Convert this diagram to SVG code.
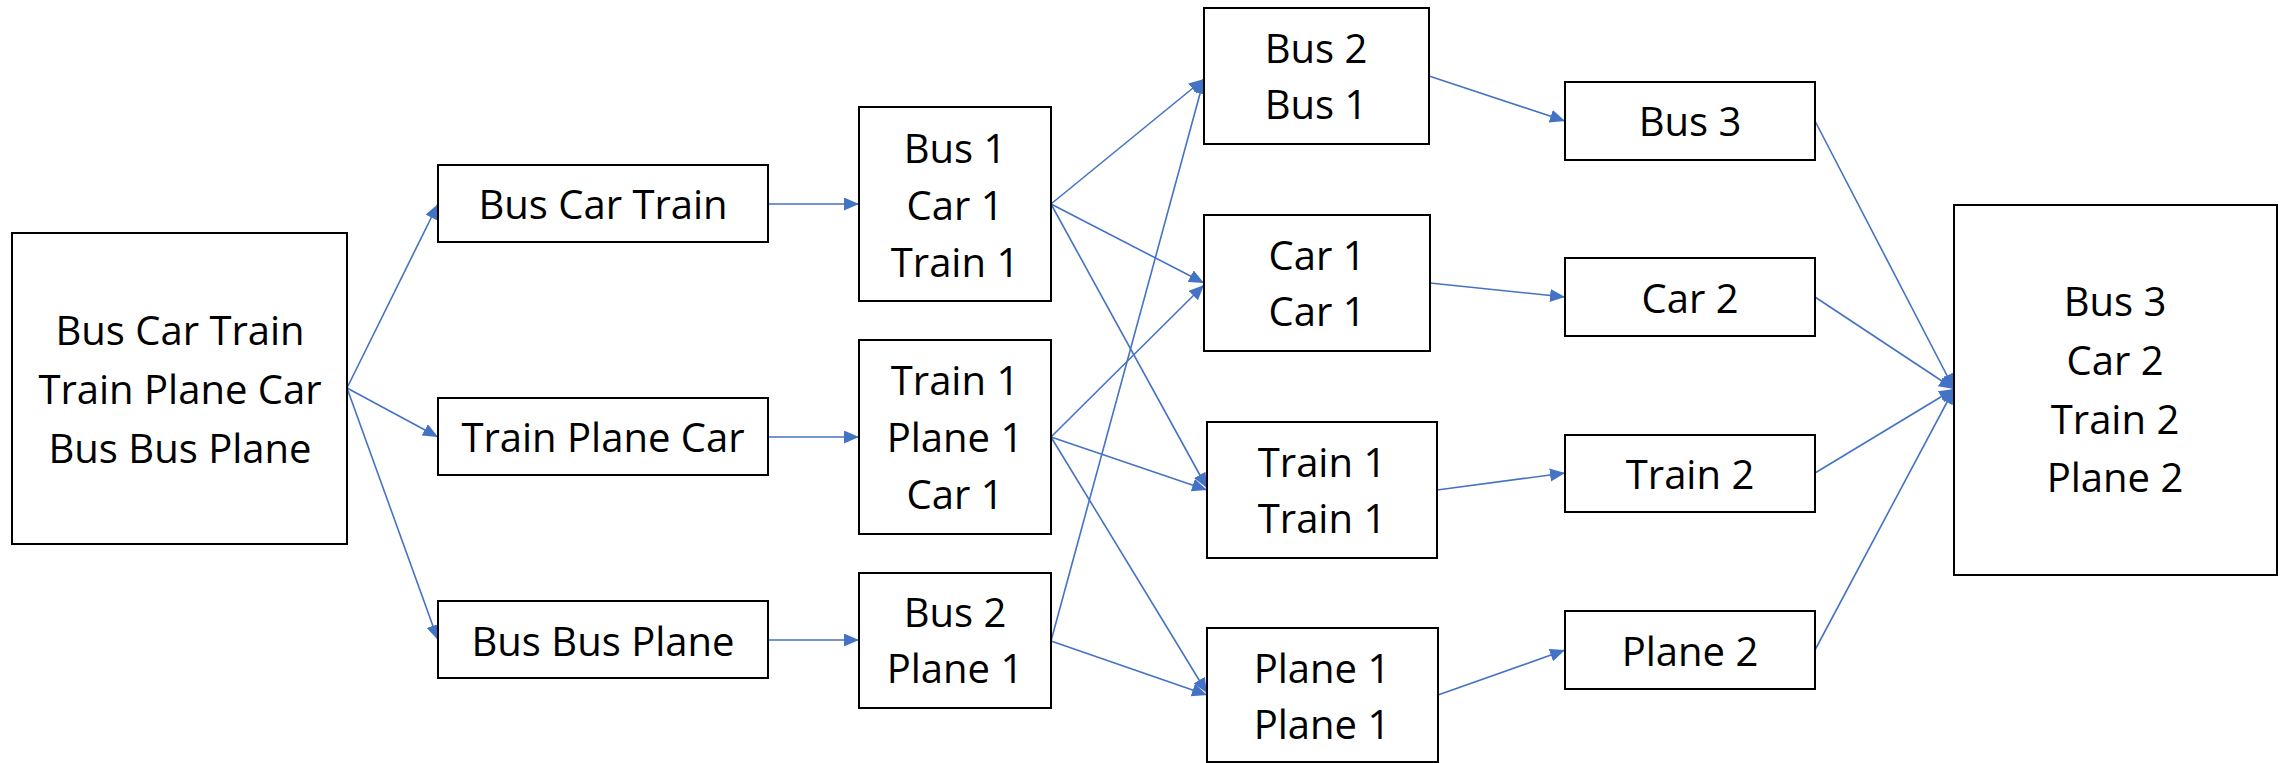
<svg xmlns="http://www.w3.org/2000/svg" width="2287" height="763" viewBox="0 0 2287 763">
<style>
.box{fill:#fff;stroke:#000;stroke-width:2}
.t{font-family:"Open Sans","Noto Sans",sans-serif;font-size:40px;fill:#000;text-anchor:middle}
.c{stroke:#4472C4;stroke-width:1.6;fill:none;marker-end:url(#ah)}
</style>
<defs>
<marker id="ah" markerUnits="userSpaceOnUse" markerWidth="16" markerHeight="14" refX="15" refY="6.5" orient="auto">
<path d="M0,0 L15,6.5 L0,13 z" fill="#4472C4"/>
</marker>
</defs>
<rect width="2287" height="763" fill="#fff"/>
<g id="connectors">
<line class="c" x1="347" y1="388" x2="438" y2="204"/>
<line class="c" x1="347" y1="388" x2="438" y2="437"/>
<line class="c" x1="347" y1="388" x2="438" y2="640"/>
<line class="c" x1="768" y1="204" x2="859" y2="204"/>
<line class="c" x1="768" y1="437" x2="859" y2="437"/>
<line class="c" x1="768" y1="640" x2="859" y2="640"/>
<line class="c" x1="1051" y1="204" x2="1204" y2="79"/>
<line class="c" x1="1051" y1="204" x2="1204" y2="283"/>
<line class="c" x1="1051" y1="204" x2="1207" y2="488"/>
<line class="c" x1="1051" y1="437" x2="1204" y2="285"/>
<line class="c" x1="1051" y1="437" x2="1207" y2="490"/>
<line class="c" x1="1051" y1="437" x2="1207" y2="693"/>
<line class="c" x1="1051" y1="641" x2="1204" y2="79"/>
<line class="c" x1="1051" y1="641" x2="1207" y2="695"/>
<line class="c" x1="1429" y1="76" x2="1565" y2="121"/>
<line class="c" x1="1430" y1="283" x2="1565" y2="297"/>
<line class="c" x1="1437" y1="490" x2="1565" y2="473"/>
<line class="c" x1="1438" y1="695" x2="1565" y2="650"/>
<line class="c" x1="1815" y1="121" x2="1954" y2="389"/>
<line class="c" x1="1815" y1="297" x2="1954" y2="389"/>
<line class="c" x1="1815" y1="473" x2="1954" y2="389"/>
<line class="c" x1="1815" y1="650" x2="1954" y2="389"/>
</g>
<g id="start">
<rect class="box" x="12" y="233" width="335" height="311"/>
<text class="t" x="180" y="345">Bus Car Train</text>
<text class="t" x="180" y="404">Train Plane Car</text>
<text class="t" x="180" y="463">Bus Bus Plane</text>
</g>
<g id="bus-car-train">
<rect class="box" x="438" y="165" width="330" height="77"/>
<text class="t" x="603" y="219">Bus Car Train</text>
</g>
<g id="train-plane-car">
<rect class="box" x="438" y="398" width="330" height="77"/>
<text class="t" x="603" y="452">Train Plane Car</text>
</g>
<g id="bus-bus-plane">
<rect class="box" x="438" y="601" width="330" height="77"/>
<text class="t" x="603" y="656">Bus Bus Plane</text>
</g>
<g id="bus1-car1-train1">
<rect class="box" x="859" y="107" width="192" height="194"/>
<text class="t" x="955" y="163">Bus 1</text>
<text class="t" x="955" y="220">Car 1</text>
<text class="t" x="955" y="277">Train 1</text>
</g>
<g id="train1-plane1-car1">
<rect class="box" x="859" y="340" width="192" height="194"/>
<text class="t" x="955" y="395">Train 1</text>
<text class="t" x="955" y="452">Plane 1</text>
<text class="t" x="955" y="509">Car 1</text>
</g>
<g id="bus2-plane1">
<rect class="box" x="859" y="573" width="192" height="135"/>
<text class="t" x="955" y="627">Bus 2</text>
<text class="t" x="955" y="683">Plane 1</text>
</g>
<g id="bus2-bus1">
<rect class="box" x="1204" y="8" width="225" height="136"/>
<text class="t" x="1316" y="63">Bus 2</text>
<text class="t" x="1316" y="119">Bus 1</text>
</g>
<g id="car1-car1">
<rect class="box" x="1204" y="215" width="226" height="136"/>
<text class="t" x="1317" y="270">Car 1</text>
<text class="t" x="1317" y="326">Car 1</text>
</g>
<g id="train1-train1">
<rect class="box" x="1207" y="422" width="230" height="136"/>
<text class="t" x="1322" y="477">Train 1</text>
<text class="t" x="1322" y="533">Train 1</text>
</g>
<g id="plane1-plane1">
<rect class="box" x="1207" y="628" width="231" height="134"/>
<text class="t" x="1322" y="683">Plane 1</text>
<text class="t" x="1322" y="739">Plane 1</text>
</g>
<g id="bus3">
<rect class="box" x="1565" y="82" width="250" height="78"/>
<text class="t" x="1690" y="136">Bus 3</text>
</g>
<g id="car2">
<rect class="box" x="1565" y="258" width="250" height="78"/>
<text class="t" x="1690" y="313">Car 2</text>
</g>
<g id="train2">
<rect class="box" x="1565" y="435" width="250" height="77"/>
<text class="t" x="1690" y="489">Train 2</text>
</g>
<g id="plane2">
<rect class="box" x="1565" y="611" width="250" height="78"/>
<text class="t" x="1690" y="666">Plane 2</text>
</g>
<g id="result">
<rect class="box" x="1954" y="205" width="323" height="370"/>
<text class="t" x="2115" y="316">Bus 3</text>
<text class="t" x="2115" y="375">Car 2</text>
<text class="t" x="2115" y="434">Train 2</text>
<text class="t" x="2115" y="492">Plane 2</text>
</g>
</svg>
